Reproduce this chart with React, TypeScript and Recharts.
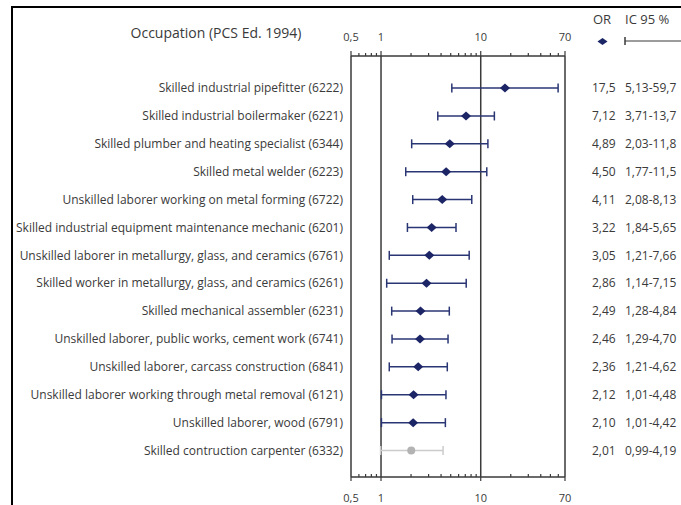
import { ScatterChart, Scatter, XAxis, YAxis, ErrorBar, ReferenceLine } from "recharts";

// occupations, top to bottom
const occupations = [
  "Skilled industrial pipefitter (6222)",
  "Skilled industrial boilermaker (6221)",
  "Skilled plumber and heating specialist (6344)",
  "Skilled metal welder (6223)",
  "Unskilled laborer working on metal forming (6722)",
  "Skilled industrial equipment maintenance mechanic (6201)",
  "Unskilled laborer in metallurgy, glass, and ceramics (6761)",
  "Skilled worker in metallurgy, glass, and ceramics (6261)",
  "Skilled mechanical assembler (6231)",
  "Unskilled laborer, public works, cement work (6741)",
  "Unskilled laborer, carcass construction (6841)",
  "Unskilled laborer working through metal removal (6121)",
  "Unskilled laborer, wood (6791)",
  "Skilled contruction carpenter (6332)",
];
const oddsRatios = [17.5, 7.12, 4.89, 4.5, 4.11, 3.22, 3.05, 2.86, 2.49, 2.46, 2.36, 2.12, 2.1, 2.01];
const ciLow = [5.13, 3.71, 2.03, 1.77, 2.08, 1.84, 1.21, 1.14, 1.28, 1.29, 1.21, 1.01, 1.01, 0.99];
const ciHigh = [59.7, 13.7, 11.8, 11.5, 8.13, 5.65, 7.66, 7.15, 4.84, 4.7, 4.62, 4.48, 4.42, 4.19];
const orLabels = ["17,5", "7,12", "4,89", "4,50", "4,11", "3,22", "3,05", "2,86", "2,49", "2,46", "2,36", "2,12", "2,10", "2,01"];
const ciLabels = [
  "5,13-59,7", "3,71-13,7", "2,03-11,8", "1,77-11,5", "2,08-8,13", "1,84-5,65", "1,21-7,66",
  "1,14-7,15", "1,28-4,84", "1,29-4,70", "1,21-4,62", "1,01-4,48", "1,01-4,42", "0,99-4,19",
];
const majorTicks = [0.5, 1, 10, 70];
const majorTickLabels = ["0,5", "1", "10", "70"];
const minorTicks = [0.6, 0.7, 0.8, 0.9, 2, 3, 4, 5, 6, 7, 8, 9, 20, 30, 40, 50, 60];

const rows = occupations.map((name, i) => ({
  row: i,
  name,
  or: oddsRatios[i],
  err: [oddsRatios[i] - ciLow[i], ciHigh[i] - oddsRatios[i]],
}));
const significant = rows.filter((r) => ciLow[r.row] >= 1);
const notSignificant = rows.filter((r) => ciLow[r.row] < 1);
const rowIndex = rows.map((r) => r.row);
const allTicks = [...majorTicks, ...minorTicks].sort((a, b) => a - b);

const NAVY = "#1c2566";
const BAR = "#2a3674";
const GREY_LINE = "#cbcbcb";
const GREY_DOT = "#b3b3b3";
const AXIS = "#3a3a3a";
const TEXT = "#3a3a3a";
const FONT = "'Open Sans', Lato, sans-serif";

const makeXTick = (side: "top" | "bottom") => (props: any) => {
  const { x, y, payload } = props;
  const mi = majorTicks.indexOf(payload.value);
  const major = mi >= 0;
  // top: ticks point up; bottom: minor ticks point in, major ticks poke out below
  const y2 = side === "top" ? y - (major ? 5 : 3) : major ? y + 4 : y - 3;
  return (
    <g>
      <line x1={x} x2={x} y1={y} y2={y2} stroke={AXIS} strokeWidth={1.2} />
      {major && (
        <text
          x={x}
          y={side === "top" ? y - 15 : y + 25}
          textAnchor="middle"
          fontFamily={FONT}
          fontSize={11}
          fill={TEXT}
        >
          {majorTickLabels[mi]}
        </text>
      )}
    </g>
  );
};
const TopTick = makeXTick("top");
const BottomTick = makeXTick("bottom");

const LabelTick = (props: any) => {
  const { x, y, payload } = props;
  return (
    <text x={x - 8} y={y} dy="0.35em" textAnchor="end" fontFamily={FONT} fontSize={12} fill={TEXT}>
      {occupations[payload.value]}
    </text>
  );
};

const ValueTick = (props: any) => {
  const { x, y, payload } = props;
  const i = payload.value;
  return (
    <g fontFamily={FONT} fontSize={12} fill={TEXT}>
      <text x={x + 27} y={y} dy="0.35em">
        {orLabels[i]}
      </text>
      <text x={x + 60} y={y} dy="0.35em">
        {ciLabels[i]}
      </text>
    </g>
  );
};

const Diamond = (props: any) => {
  const { cx, cy } = props;
  return <polygon points={`${cx - 5},${cy} ${cx},${cy - 4.5} ${cx + 5},${cy} ${cx},${cy + 4.5}`} fill={NAVY} />;
};
const GreyDot = (props: any) => {
  const { cx, cy } = props;
  return <circle cx={cx} cy={cy} r={4} fill={GREY_DOT} />;
};

export default function App() {
  return (
    <div style={{ position: "fixed", left: 0, top: 0, width: 681, height: 505, overflow: "hidden", background: "#fff" }}>
      <div
        style={{
          position: "absolute",
          left: 11,
          top: 6,
          width: 700,
          height: 600,
          borderTop: "2px solid #000",
          borderLeft: "2px solid #000",
        }}
      />
      <svg width={681} height={60} style={{ position: "absolute", left: 0, top: 0 }}>
        <text x={216} y={38} textAnchor="middle" fontFamily={FONT} fontSize={14} fill={TEXT}>
          Occupation (PCS Ed. 1994)
        </text>
        <text x={593} y={24} fontFamily={FONT} fontSize={13} fill={TEXT}>
          OR
        </text>
        <text x={625} y={24} fontFamily={FONT} fontSize={13} fill={TEXT}>
          IC 95 %
        </text>
        <polygon points="597.5,41.5 602.5,38 607.5,41.5 602.5,45" fill={NAVY} />
        <line x1={625} x2={690} y1={41} y2={41} stroke={AXIS} strokeWidth={1.2} />
        <line x1={625} x2={625} y1={37} y2={45} stroke={AXIS} strokeWidth={1.5} />
      </svg>
      <div style={{ position: "absolute", left: 0, top: 0 }}>
        <ScatterChart width={681} height={505} margin={{ top: 0, right: 0, bottom: 0, left: 0 }}>
          <XAxis
            xAxisId="top"
            orientation="top"
            type="number"
            dataKey="or"
            scale="log"
            domain={[0.5, 70]}
            ticks={allTicks}
            interval={0}
            allowDataOverflow
            height={56}
            tickSize={0}
            tickMargin={0}
            tickLine={false}
            axisLine={{ stroke: AXIS, strokeWidth: 1.5 }}
            tick={<TopTick />}
          />
          <XAxis
            xAxisId="bottom"
            orientation="bottom"
            type="number"
            dataKey="or"
            scale="log"
            domain={[0.5, 70]}
            ticks={allTicks}
            interval={0}
            allowDataOverflow
            height={28}
            tickSize={0}
            tickMargin={0}
            tickLine={false}
            axisLine={{ stroke: AXIS, strokeWidth: 1.5 }}
            tick={<BottomTick />}
          />
          <YAxis
            yAxisId="left"
            type="number"
            dataKey="row"
            domain={[-1.15, 13.95]}
            reversed
            ticks={rowIndex}
            interval={0}
            allowDataOverflow
            width={351}
            tickSize={0}
            tickMargin={0}
            tickLine={false}
            axisLine={false}
            tick={<LabelTick />}
          />
          <YAxis
            yAxisId="right"
            orientation="right"
            type="number"
            domain={[-1.15, 13.95]}
            reversed
            ticks={rowIndex}
            interval={0}
            allowDataOverflow
            width={116}
            tickSize={0}
            tickMargin={0}
            tickLine={false}
            axisLine={false}
            tick={<ValueTick />}
          />
          {majorTicks.map((t) => (
            <ReferenceLine key={t} x={t} xAxisId="bottom" yAxisId="left" stroke={AXIS} strokeWidth={1.5} />
          ))}
          <Scatter
            data={significant}
            xAxisId="bottom"
            yAxisId="left"
            dataKey="or"
            shape={<Diamond />}
            isAnimationActive={false}
          >
            <ErrorBar dataKey="err" direction="x" width={4.5} stroke={BAR} strokeWidth={1.5} isAnimationActive={false} />
          </Scatter>
          <Scatter
            data={notSignificant}
            xAxisId="top"
            yAxisId="left"
            dataKey="or"
            shape={<GreyDot />}
            isAnimationActive={false}
          >
            <ErrorBar dataKey="err" direction="x" width={4.5} stroke={GREY_LINE} strokeWidth={1.5} isAnimationActive={false} />
          </Scatter>
        </ScatterChart>
      </div>
    </div>
  );
}
